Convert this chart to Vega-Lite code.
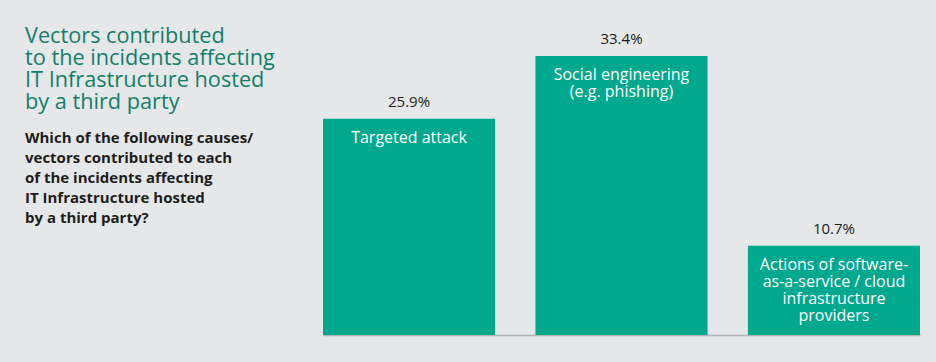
{
  "$schema": "https://vega.github.io/schema/vega-lite/v6.json",
  "width": 597,
  "height": 334,
  "autosize": "none",
  "padding": {"left": 323, "top": 1, "right": 16, "bottom": 27},
  "background": "#e6e7e9",
  "title": {
    "text": ["Vectors contributed", "to the incidents affecting", "IT Infrastructure hosted", "by a third party"],
    "subtitle": ["Which of the following causes/", "vectors contributed to each", "of the incidents affecting", "IT Infrastructure hosted", "by a third party?"],
    "orient": "top",
    "anchor": "start",
    "frame": "group",
    "baseline": "top",
    "offset": 0,
    "dx": -298,
    "dy": 225,
    "font": "Open Sans",
    "fontSize": 21.7,
    "fontWeight": "normal",
    "color": "#117f6b",
    "lineHeight": 22,
    "subtitleFont": "Open Sans",
    "subtitleFontSize": 15,
    "subtitleFontWeight": "bold",
    "subtitleColor": "#1d1d1b",
    "subtitleLineHeight": 20,
    "subtitlePadding": 17
  },
  "data": {
    "values": [
      {"vector": "Targeted attack", "share": 0.259, "label": ["Targeted attack"]},
      {"vector": "Social engineering (e.g. phishing)", "share": 0.334, "label": ["Social engineering", "(e.g. phishing)"]},
      {"vector": "Actions of software-as-a-service / cloud infrastructure providers", "share": 0.107, "label": ["Actions of software-", "as-a-service / cloud", "infrastructure", "providers"]}
    ]
  },
  "encoding": {
    "x": {
      "field": "vector",
      "type": "nominal",
      "sort": null,
      "scale": {"paddingInner": 0.19, "paddingOuter": 0},
      "axis": {"title": null, "labels": false, "ticks": false, "domain": true, "domainColor": "#b3b4b6", "domainWidth": 1.5, "grid": false}
    },
    "y": {
      "field": "share",
      "type": "quantitative",
      "scale": {"domain": [0, 0.4]},
      "axis": null
    }
  },
  "layer": [
    {"mark": {"type": "bar", "color": "#00a88e"}},
    {
      "mark": {"type": "text", "baseline": "alphabetic", "dy": -12, "font": "Open Sans", "fontSize": 15, "color": "#1d1d1b"},
      "encoding": {"text": {"field": "share", "type": "quantitative", "format": ".1%"}}
    },
    {
      "mark": {"type": "text", "baseline": "top", "dy": 11, "font": "Open Sans", "fontSize": 16, "lineHeight": 17, "color": "#ffffff"},
      "encoding": {"text": {"field": "label"}}
    }
  ],
  "config": {"view": {"stroke": null}}
}
